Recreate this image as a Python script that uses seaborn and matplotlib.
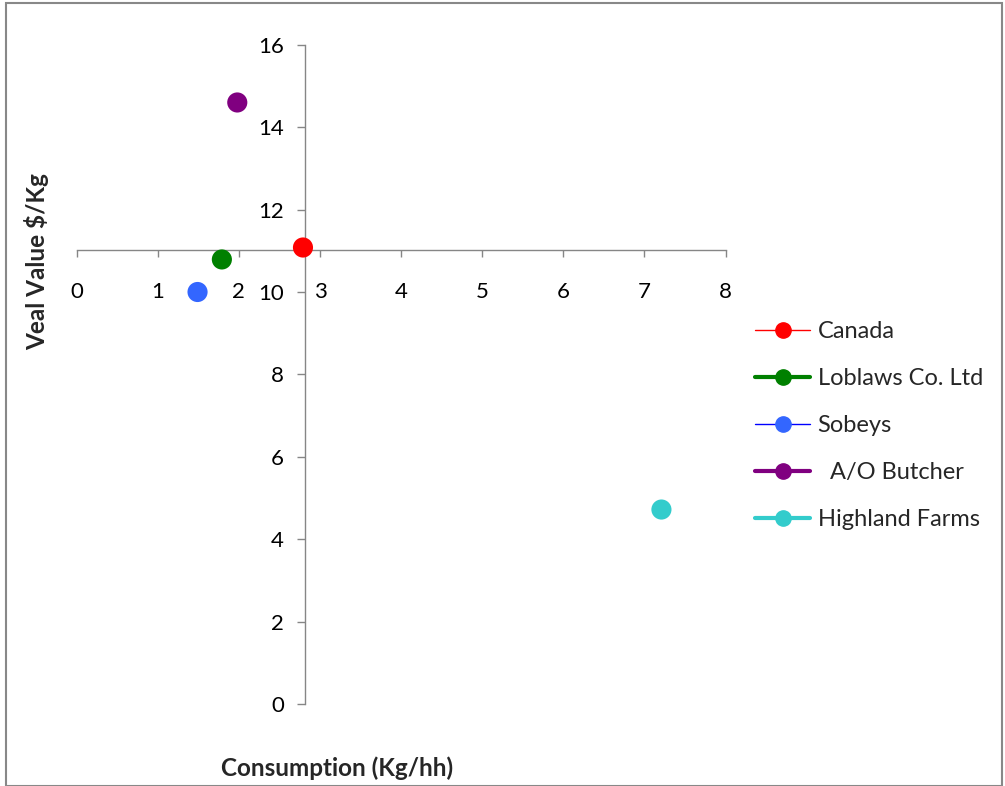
import matplotlib
matplotlib.use("Agg")
import matplotlib.pyplot as plt
from matplotlib.lines import Line2D
from matplotlib.patches import Rectangle
import seaborn as sns
import pandas as pd

names = ["Canada", "Loblaws Co. Ltd", "Sobeys", "A/O Butcher", "Highland Farms"]
legend_labels = ["Canada", "Loblaws Co. Ltd", "Sobeys", "  A/O Butcher", "Highland Farms"]
consumption = [2.79, 1.79, 1.49, 1.98, 7.21]
veal_value = [11.08, 10.79, 10.0, 14.6, 4.72]
marker_colors = ["#FF0000", "#008000", "#3366FF", "#800080", "#33CCCC"]
legend_line_colors = ["#FF0000", "#008000", "#0000FF", "#800080", "#33CCCC"]
legend_line_widths = [1.0, 3.0, 1.0, 3.0, 3.0]
x_ticks = [0, 1, 2, 3, 4, 5, 6, 7, 8]
y_ticks = [0, 2, 4, 6, 8, 10, 12, 14, 16]

df = pd.DataFrame({"name": names, "x": consumption, "y": veal_value})

sns.set_style("white")
plt.rcParams["font.family"] = ["Lato", "DejaVu Sans"]

W, H = 1005, 786
fig = plt.figure(figsize=(W / 100, H / 100), dpi=100)
ax = fig.add_axes([76.7 / W, 1 - 704 / H, (725.5 - 76.7) / W, (704 - 44.8) / H])

sns.scatterplot(data=df, x="x", y="y", hue="name", palette=dict(zip(names, marker_colors)),
                s=210, edgecolor="none", legend=False, ax=ax, zorder=3)

ax.set_xlim(0, 8)
ax.set_ylim(0, 16)
ax.set_xticks(x_ticks)
ax.set_yticks(y_ticks)
ax.set_xlabel("")
ax.set_ylabel("")

ax.spines["left"].set_position(("data", consumption[0] + 0.02))
ax.spines["bottom"].set_position(("data", 11.03))
ax.spines["top"].set_visible(False)
ax.spines["right"].set_visible(False)
for s in ("left", "bottom"):
    ax.spines[s].set_color("#868686")
    ax.spines[s].set_linewidth(1.0)

ax.tick_params(axis="x", direction="out", length=5, width=1, color="#868686",
               pad=18, labelsize=16, labelcolor="black", bottom=True)
ax.tick_params(axis="y", direction="out", length=6, width=1, color="#868686",
               pad=9, labelsize=16, labelcolor="black", left=True)

fig.text(337 / W, 1 - 768 / H, "Consumption (Kg/hh)", ha="center", va="center",
         fontsize=17.5, fontweight="bold")
fig.text(37 / W, 1 - 262 / H, "Veal Value $/Kg", ha="center", va="center",
         rotation=90, fontsize=17.5, fontweight="bold")

handles = [Line2D([0], [0], color=lc, lw=lw, marker="o", markersize=11,
                  markerfacecolor=mc, markeredgecolor=mc)
           for lc, lw, mc in zip(legend_line_colors, legend_line_widths, marker_colors)]
fig.legend(handles, legend_labels, loc="upper left",
           bbox_to_anchor=(755 / W, 1 - 321 / H), frameon=False,
           fontsize=17, handlelength=2.35, handletextpad=0.3, labelspacing=1.1,
           borderpad=0, borderaxespad=0)

fig.patches.append(Rectangle((6 / W, 0), (1002 - 6) / W, 1 - 2.5 / H,
                             transform=fig.transFigure, fill=False,
                             edgecolor="#888888", linewidth=1.5))

fig.savefig("out.png", dpi=100)
